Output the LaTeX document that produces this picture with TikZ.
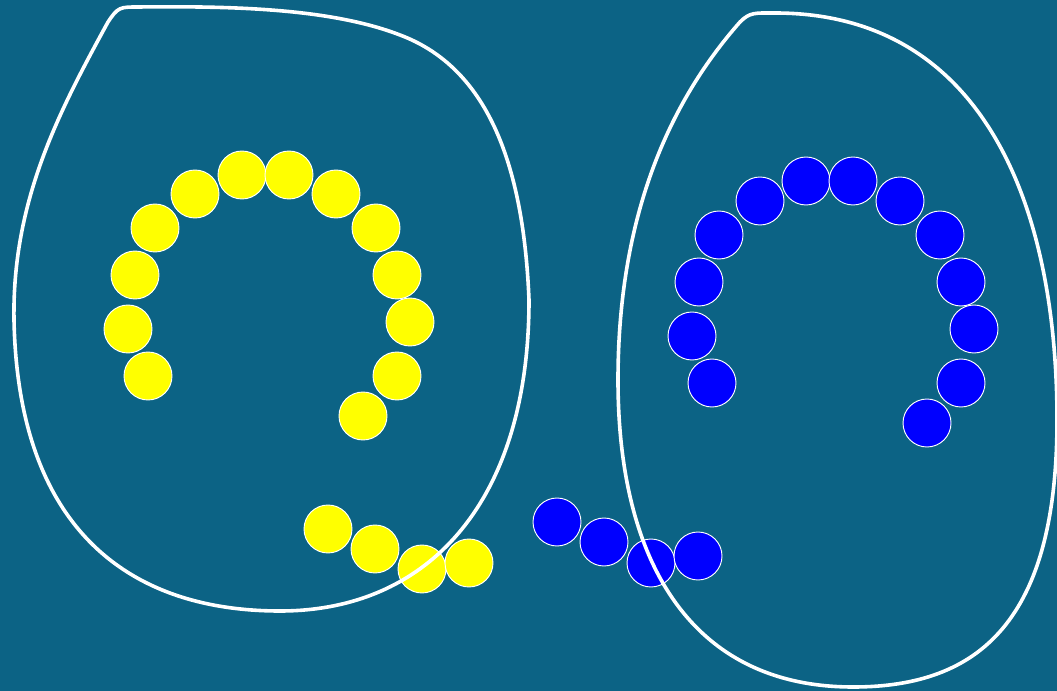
\documentclass[tikz,border=0pt]{standalone}
\definecolor{bgteal}{RGB}{12,99,133}
\definecolor{ballyellow}{RGB}{255,255,0}
\definecolor{ballblue}{RGB}{0,0,255}
\tikzset{
  ball/.style={circle, draw=white, line width=0.7pt, minimum size=36pt, inner sep=0pt},
  yball/.style={ball, fill=ballyellow},
  bball/.style={ball, fill=ballblue},
  region/.style={draw=white, line width=2.7pt, line join=round}
}
\begin{document}
\begin{tikzpicture}[x=0.75pt, y=-0.75pt]
\fill[bgteal] (0,0) rectangle (1057,691);
\useasboundingbox (0,0) rectangle (1057,691);
% yellow arc
\foreach \n/\px/\py in {1/148/376, 2/128/329, 3/135/275, 4/155/228, 5/195/194, 6/242/175, 7/289/175, 8/336/194, 9/376/228, 10/397/275, 11/410/322, 12/397/376, 13/363/416, 14/328/529, 15/375/549, 16/422/569, 17/469/563}
  \node[yball] (y\n) at (\px,\py) {};
% blue arc
\foreach \n/\px/\py in {1/712/383, 2/692/336, 3/699/282, 4/719/235, 5/760/201, 6/806/181, 7/853/181, 8/900/201, 9/940/235, 10/961/282, 11/974/329, 12/961/383, 13/927/423, 14/557/522, 15/604/542, 16/651/563, 17/698/556}
  \node[bball] (b\n) at (\px,\py) {};
% left region
\draw[region] (108,22) .. controls (118,7) and (120,7) .. (138,7)
  .. controls (230,6) and (330,8) .. (400,35)
  .. controls (480,65) and (523,150) .. (529,300)
  .. controls (529,500) and (430,611) .. (280,611)
  .. controls (125,611) and (18,525) .. (14,320)
  .. controls (12,200) and (60,110) .. cycle;
% right region
\draw[region] (740,22) .. controls (750,12) and (755,13) .. (775,13)
  .. controls (980,13) and (1057,200) .. (1057,420)
  .. controls (1057,620) and (980,687) .. (853,687)
  .. controls (690,687) and (618,560) .. (618,380)
  .. controls (618,200) and (680,90) .. cycle;
\end{tikzpicture}
\end{document}
